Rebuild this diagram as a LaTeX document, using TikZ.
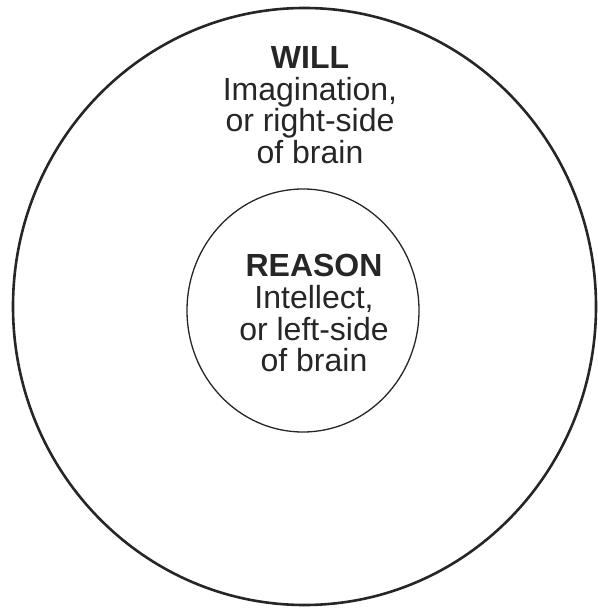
\documentclass[tikz,border=0pt]{standalone}
\usepackage{fontspec}
\setmainfont{Liberation Sans}
\usetikzlibrary{shapes.geometric}
\begin{document}
\begin{tikzpicture}[x=1pt, y=-1pt,
  ring/.style={draw=black!85, ellipse, inner sep=0pt},
  ringtext/.style={align=center, inner sep=0pt, text=black!85, font=\fontsize{32}{31.8}\selectfont},
]
  \useasboundingbox (0,0) rectangle (597,609);
  % outer and inner circles
  \node[ring, line width=2.6pt, minimum width=583pt, minimum height=597pt] (will) at (304.5,306.5) {};
  \node[ring, line width=1.3pt, minimum width=232pt, minimum height=243pt] (reason) at (303,310.5) {};

  \node[ringtext, anchor=north] (willtext) at (310,46) {\textbf{WILL}\\Imagination,\\or right-side\\of brain};
  \node[ringtext, anchor=north] (reasontext) at (314,254) {\textbf{REASON}\\Intellect,\\or left-side\\of brain};
\end{tikzpicture}
\end{document}
